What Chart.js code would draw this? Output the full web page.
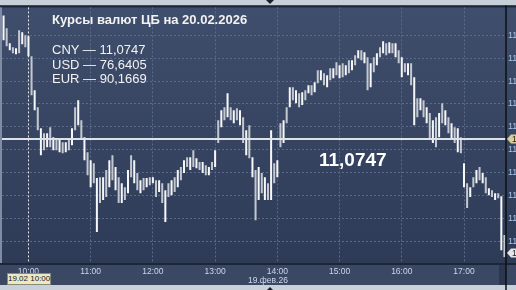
<!DOCTYPE html>
<html><head><meta charset="utf-8">
<script src="https://cdn.jsdelivr.net/npm/chart.js@4"></script>
<style>
html,body{margin:0;padding:0;background:#3a4864;}
#wrap{position:relative;width:516px;height:290px;overflow:hidden;}
canvas{position:absolute;left:0;top:0;}
.t{position:absolute;color:#f2f2f2;font-family:"Liberation Sans",Arial,sans-serif;white-space:nowrap;}
</style></head><body>
<div id="wrap">
<canvas id="c" width="546" height="290" style="width:546px;height:290px"></canvas>
<div class="t" style="left:52px;top:13px;font-size:13px;line-height:13px;font-weight:bold">Курсы валют ЦБ на 20.02.2026</div>
<div class="t" style="left:52px;top:43px;font-size:13px;line-height:13px">CNY — 11,0747</div>
<div class="t" style="left:52px;top:57.5px;font-size:13px;line-height:13px">USD — 76,6405</div>
<div class="t" style="left:52px;top:72px;font-size:13px;line-height:13px">EUR — 90,1669</div>
<div class="t" style="left:319px;top:150px;font-size:19px;line-height:19px;font-weight:bold;color:#fff">11,0747</div>
<div class="t" style="left:7px;top:273px;width:42px;height:10px;border:1px solid #8a8a7a;background:#ebe8c6;color:#1a1a1a;font-size:8px;line-height:10px;text-align:center">19.02 10:00</div>
<div class="t" style="left:248px;top:275.5px;font-size:8.5px;line-height:9px;color:#cdd9ee">19.фев.26</div>
</div>
<script>
const times = [
"09:36","09:39","09:42","09:45","09:48","09:51","09:54","09:57",
"10:00","10:03","10:06","10:09","10:12","10:15","10:18","10:21","10:24","10:27","10:30","10:33","10:36","10:39","10:42","10:45","10:48","10:51","10:54","10:57",
"11:00","11:03","11:06","11:09","11:12","11:15","11:18","11:21","11:24","11:27","11:30","11:33","11:36","11:39","11:42","11:45","11:48","11:51","11:54","11:57",
"12:00","12:03","12:06","12:09","12:12","12:15","12:18","12:21","12:24","12:27","12:30","12:33","12:36","12:39","12:42","12:45","12:48","12:51","12:54","12:57",
"13:00","13:03","13:06","13:09","13:12","13:15","13:18","13:21","13:24","13:27","13:30","13:33","13:36","13:39","13:42","13:45","13:48","13:51","13:54","13:57",
"14:00","14:03","14:06","14:09","14:12","14:15","14:18","14:21","14:24","14:27","14:30","14:33","14:36","14:39","14:42","14:45","14:48","14:51","14:54","14:57",
"15:00","15:03","15:06","15:09","15:12","15:15","15:18","15:21","15:24","15:27","15:30","15:33","15:36","15:39","15:42","15:45","15:48","15:51","15:54","15:57",
"16:00","16:03","16:06","16:09","16:12","16:15","16:18","16:21","16:24","16:27","16:30","16:33","16:36","16:39","16:42","16:45","16:48","16:51","16:54","16:57",
"17:00","17:03","17:06","17:09","17:12","17:15","17:18","17:21","17:24","17:27","17:30","17:33","17:36","17:39"];

const highs = [
11.1287,11.1231,11.1165,11.1148,11.1143,11.1222,11.1213,11.1200,
11.1196,11.1108,11.0960,11.0886,11.0794,11.0772,11.0772,11.0798,11.0755,11.0750,11.0742,11.0733,11.0733,11.0742,11.0794,11.0886,11.0916,11.0829,11.0755,11.0689,
11.0654,11.0641,11.0576,11.0580,11.0580,11.0611,11.0654,11.0676,11.0624,11.0580,11.0554,11.0536,11.0611,11.0676,11.0654,11.0598,11.0567,11.0576,11.0576,11.0580,
11.0580,11.0567,11.0567,11.0554,11.0523,11.0554,11.0567,11.0580,11.0611,11.0624,11.0654,11.0667,11.0667,11.0698,11.0663,11.0646,11.0646,11.0632,11.0624,11.0646,
11.0698,11.0829,11.0873,11.0886,11.0947,11.0886,11.0873,11.0881,11.0873,11.0842,11.0785,11.0807,11.0667,11.0611,11.0624,11.0598,11.0580,11.0554,11.0785,11.0641,
11.0654,11.0816,11.0829,11.0886,11.0973,11.0973,11.0960,11.0947,11.0951,11.0960,11.0982,11.0982,11.0995,11.1047,11.1047,11.1034,11.1026,11.1056,11.1056,11.1082,
11.1069,11.1078,11.1069,11.1091,11.1091,11.1113,11.1135,11.1135,11.1126,11.1104,11.1078,11.1104,11.1122,11.1148,11.1174,11.1165,11.1170,11.1165,11.1165,11.1135,
11.1104,11.1078,11.1078,11.1078,11.1017,11.0925,11.0925,11.0916,11.0886,11.0860,11.0829,11.0842,11.0860,11.0903,11.0873,11.0842,11.0816,11.0798,11.0794,11.0755,
11.0641,11.0554,11.0536,11.0580,11.0611,11.0624,11.0598,11.0580,11.0532,11.0523,11.0510,11.0510,11.0497,11.0327];

const lows = [
11.1178,11.1152,11.1135,11.1122,11.1117,11.1122,11.1161,11.1148,
11.1108,11.0938,11.0873,11.0785,11.0676,11.0698,11.0711,11.0711,11.0698,11.0698,11.0689,11.0685,11.0689,11.0698,11.0720,11.0785,11.0807,11.0750,11.0654,11.0589,
11.0536,11.0554,11.0340,11.0467,11.0480,11.0493,11.0536,11.0567,11.0523,11.0467,11.0467,11.0480,11.0510,11.0580,11.0554,11.0523,11.0510,11.0523,11.0536,11.0545,
11.0554,11.0493,11.0515,11.0467,11.0384,11.0493,11.0501,11.0515,11.0536,11.0567,11.0598,11.0624,11.0611,11.0624,11.0619,11.0611,11.0598,11.0589,11.0589,11.0611,
11.0624,11.0729,11.0798,11.0829,11.0842,11.0829,11.0816,11.0829,11.0807,11.0729,11.0676,11.0663,11.0580,11.0392,11.0480,11.0510,11.0480,11.0480,11.0480,11.0554,
11.0580,11.0711,11.0729,11.0816,11.0886,11.0916,11.0903,11.0886,11.0895,11.0916,11.0947,11.0938,11.0951,11.0991,11.1004,11.0982,11.0973,11.1004,11.1012,11.1026,
11.1012,11.1017,11.1026,11.1034,11.1047,11.1069,11.1100,11.1091,11.1078,11.0960,11.0973,11.1039,11.1069,11.1104,11.1122,11.1113,11.1122,11.1122,11.1104,11.1078,
11.1017,11.1039,11.1026,11.0982,11.0807,11.0842,11.0873,11.0842,11.0816,11.0742,11.0729,11.0711,11.0755,11.0816,11.0807,11.0772,11.0750,11.0729,11.0689,11.0685,
11.0536,11.0445,11.0493,11.0536,11.0554,11.0567,11.0554,11.0510,11.0501,11.0493,11.0480,11.0488,11.0261,11.0231];

const priceTicks = [11.03,11.04,11.05,11.06,11.07,11.08,11.09,11.10,11.11,11.12];
const cbRate = 11.0747;
const lastPrice = 11.0249;
const yMin = 11.0205, yMax = 11.1322;

Chart.defaults.font.family = '"Liberation Sans", Arial, sans-serif';

const fmt = v => v.toFixed(2).replace('.', ',');
const fmt4 = v => v.toFixed(4).replace('.', ',');

const decor = {
  id: 'decor',
  beforeDraw(chart) {
    const {ctx, chartArea: a, width: W, height: H} = chart;
    ctx.save();
    ctx.fillStyle = '#3a4864';
    ctx.fillRect(0, 0, W, H);
    const g = ctx.createLinearGradient(0, a.top, 0, a.bottom);
    g.addColorStop(0, '#3f4e6c');
    g.addColorStop(1, '#2e3b57');
    ctx.fillStyle = g;
    ctx.fillRect(0, a.top, W, a.bottom - a.top);
    ctx.fillStyle = '#c7cfd9';
    ctx.fillRect(0, 0, W, a.top - 2);
    ctx.fillStyle = '#1d2538';
    ctx.fillRect(0, a.top - 2, W, 2);
    ctx.fillRect(0, a.bottom, W, 2);
    ctx.fillStyle = '#c8d0da';
    ctx.fillRect(0, H - 5, W, 5);
    ctx.fillStyle = '#7f8ca3';
    ctx.fillRect(0, a.top, a.left, a.bottom - a.top);
    ctx.fillStyle = '#2c374f';
    ctx.fillRect(a.right - 7, a.bottom + 2, 7, H - 5 - a.bottom - 2);
    ctx.fillStyle = '#1a2030';
    ctx.beginPath(); ctx.moveTo(266, 0); ctx.lineTo(274, 0); ctx.lineTo(270, 4); ctx.fill();
    ctx.beginPath(); ctx.moveTo(267, H); ctx.lineTo(273, H); ctx.lineTo(270, H - 3); ctx.fill();
    ctx.restore();
  },
  afterDatasetsDraw(chart) {
    const {ctx, chartArea: a, scales: {y}} = chart;
    const yc = y.getPixelForValue(cbRate);
    ctx.save();
    ctx.strokeStyle = '#dde1e8';
    ctx.lineWidth = 2;
    ctx.beginPath(); ctx.moveTo(a.left, yc); ctx.lineTo(a.right, yc); ctx.stroke();
    ctx.restore();
  },
  afterDraw(chart) {
    const {ctx, chartArea: a, scales: {y}, height: H, width: W} = chart;
    ctx.save();
    ctx.strokeStyle = '#0c0f16';
    ctx.lineWidth = 1.5;
    ctx.beginPath(); ctx.moveTo(a.right, a.top - 2); ctx.lineTo(a.right, H); ctx.stroke();
    const flag = (v, fill, txt) => {
      const yy = y.getPixelForValue(v);
      ctx.fillStyle = fill;
      ctx.beginPath();
      ctx.moveTo(a.right + 1, yy); ctx.lineTo(a.right + 5, yy - 4.5);
      ctx.lineTo(W, yy - 4.5); ctx.lineTo(W, yy + 4.5); ctx.lineTo(a.right + 5, yy + 4.5);
      ctx.closePath(); ctx.fill();
      ctx.fillStyle = '#222';
      ctx.font = '8.5px "Liberation Sans", Arial, sans-serif';
      ctx.textBaseline = 'middle';
      ctx.fillText(txt, a.right + 6, yy + 0.5);
    };
    flag(cbRate, '#d8cc9c', fmt4(cbRate));
    flag(lastPrice, '#e4e6ea', fmt4(lastPrice));
    ctx.restore();
  }
};

new Chart(document.getElementById('c'), {
  type: 'bar',
  data: {
    labels: times,
    datasets: [{
      data: times.map((_, i) => [lows[i], highs[i]]),
      backgroundColor: ctx => (ctx.dataIndex % 2 === 0 ? '#f6f7f9' : '#c3c7cf'),
      borderWidth: 0,
      categoryPercentage: 1,
      barPercentage: 0.65,
      grouped: false
    }]
  },
  options: {
    responsive: false,
    animation: false,
    devicePixelRatio: 1,
    layout: {padding: {left: 2, right: 0, top: 7, bottom: 0}},
    plugins: {legend: {display: false}, tooltip: {enabled: false}},
    scales: {
      x: {
        offset: true,
        grid: {
          offset: false,
          drawTicks: false,
          color: c => (c.tick && c.tick.label === '10:00' ? '#e8e8e8' : '#5a6a8a'),
          lineWidth: 1
        },
        border: {display: false, dash: [2, 2]},
        ticks: {autoSkip: false, maxRotation: 0, color: '#c9d6ec', font: {size: 8.5}, padding: 4},
        afterBuildTicks: s => { s.ticks = s.ticks.filter(t => times[t.value].endsWith(':00')); },
        afterFit: s => { s.height = 27; }
      },
      y: {
        position: 'right',
        min: yMin, max: yMax,
        grid: {drawTicks: false, color: '#5a6a8a', lineWidth: 1},
        border: {display: false, dash: [2, 2]},
        ticks: {color: '#a9c5ec', font: {size: 9}, padding: 2, callback: v => fmt(v)},
        afterBuildTicks: s => { s.ticks = priceTicks.map(v => ({value: v})); },
        afterFit: s => { s.width = 40; }
      }
    }
  },
  plugins: [decor]
});
</script>
</body></html>
